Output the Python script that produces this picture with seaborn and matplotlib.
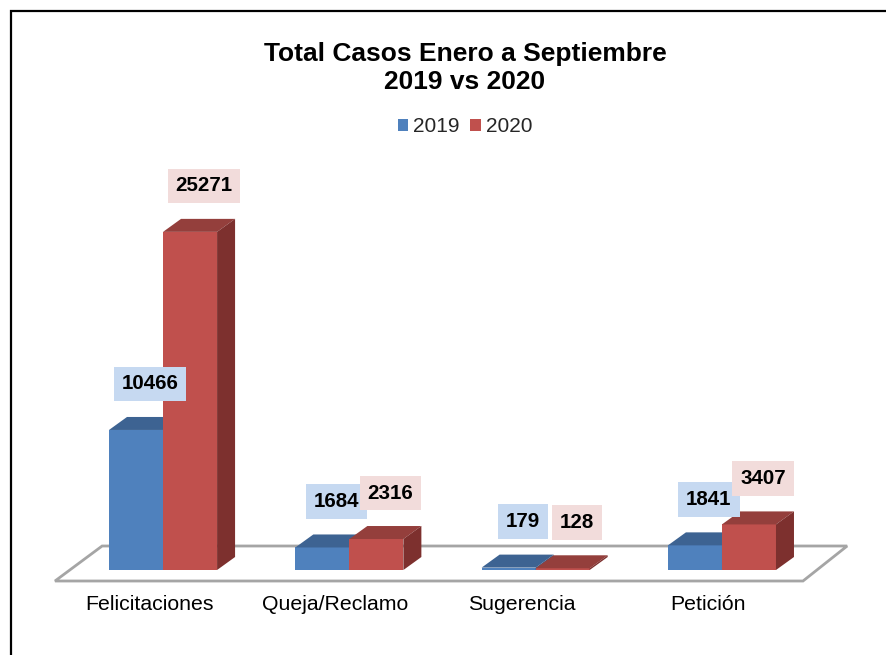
import matplotlib
matplotlib.use("Agg")
import matplotlib.pyplot as plt
import matplotlib.patches as mpatches
import matplotlib.transforms as mtransforms
import numpy as np
import pandas as pd
import seaborn as sns

categories = ["Felicitaciones", "Queja/Reclamo", "Sugerencia", "Petición"]
years = ["2019", "2020"]
values_2019 = [10466, 1684, 179, 1841]
values_2020 = [25271, 2316, 128, 3407]

front_colors = {"2019": "#4f81bd", "2020": "#c0504d"}
top_colors = {"2019": "#3d6392", "2020": "#943f3c"}
side_colors = {"2019": "#375a85", "2020": "#7d302e"}
label_colors = {"2019": "#c6d9f1", "2020": "#f2dcdb"}

df = pd.DataFrame({
    "Categoria": categories * 2,
    "Año": ["2019"] * len(categories) + ["2020"] * len(categories),
    "Casos": values_2019 + values_2020,
})

sns.set_theme(style="white")
plt.rcParams["font.family"] = ["Liberation Sans", "DejaVu Sans"]

W, H = 886, 655
fig = plt.figure(figsize=(W / 100, H / 100), dpi=100)

# axes placed in pixel terms: baseline at y=570px, 1 unit = 0.01338 px
ymax = 30000
px_per_val = 0.01338
base_px = 570
x_left_px, x_right_px = 14, 871
ax = fig.add_axes([x_left_px / W, (H - base_px) / H,
                   (x_right_px - x_left_px) / W, ymax * px_per_val / H])

sns.barplot(data=df, x="Categoria", y="Casos", hue="Año", hue_order=years,
            palette=front_colors, saturation=1, width=0.58, linewidth=0,
            legend=False, ax=ax)
ax.set_xlim(-0.8, 3.8)
ax.set_ylim(0, ymax)
ax.set_axis_off()

px_x = (x_right_px - x_left_px) / 4.6   # pixels per category unit
depth_dx = 18 / px_x
depth_dy = 13 / px_per_val

# floor (parallelogram)
fl_front_y = -11 / px_per_val
fl_back_y = 24 / px_per_val
floor = mpatches.Polygon(
    [(-0.58, fl_front_y), (3.435, fl_front_y), (3.672, fl_back_y), (-0.327, fl_back_y)],
    closed=True, facecolor="white", edgecolor="#a5a5a5", linewidth=2,
    zorder=1, clip_on=False)
ax.add_patch(floor)

# 3D faces and value labels, built from the seaborn bars
for i, (year, cont) in enumerate(zip(years, ax.containers)):
    z = 2 + i
    for bar in cont:
        bar.set_zorder(z)
        bar.set_clip_on(False)
        x0, w, h = bar.get_x(), bar.get_width(), bar.get_height()
        top = mpatches.Polygon(
            [(x0, h), (x0 + depth_dx, h + depth_dy), (x0 + w + depth_dx, h + depth_dy), (x0 + w, h)],
            closed=True, facecolor=top_colors[year], edgecolor="none", zorder=z, clip_on=False)
        side = mpatches.Polygon(
            [(x0 + w, 0), (x0 + w, h), (x0 + w + depth_dx, h + depth_dy), (x0 + w + depth_dx, depth_dy)],
            closed=True, facecolor=side_colors[year], edgecolor="none", zorder=z, clip_on=False)
        ax.add_patch(top)
        ax.add_patch(side)
        ax.annotate(f"{h:.0f}", xy=(x0 + w / 2 + depth_dx / 2, h + depth_dy),
                    xytext=(5, 33), textcoords="offset pixels",
                    ha="center", va="center", fontsize=14.8, fontweight="bold",
                    color="black", zorder=10, annotation_clip=False,
                    bbox=dict(boxstyle="square,pad=0.38", facecolor=label_colors[year],
                              edgecolor="none"))

# category labels
lbl_tr = mtransforms.offset_copy(ax.transData, fig=fig, x=-14, y=-35, units="dots")
for k, cat in enumerate(categories):
    ax.text(k, 0, cat, transform=lbl_tr, ha="center", va="center",
            fontsize=15.3, color="black")

# title
fig.text(465 / W, 1 - 68 / H, "Total Casos Enero a Septiembre\n2019 vs 2020",
         ha="center", va="center", fontsize=19, fontweight="bold", color="black")

# legend
handles = [mpatches.Patch(facecolor=front_colors[y], edgecolor="none", label=y) for y in years]
fig.legend(handles=handles, loc="center", bbox_to_anchor=(465 / W, 1 - 127 / H),
           ncol=2, frameon=False, fontsize=15, handlelength=0.5, handleheight=0.5,
           handletextpad=0.25, columnspacing=0.5)

# chart border (open to the right and bottom like the crop)
border = mpatches.Rectangle((11 / W, -0.1), 1.2, 1.1 - 11 / H, transform=fig.transFigure,
                            facecolor="none", edgecolor="black", linewidth=1.6,
                            clip_on=False, zorder=20)
fig.patches.append(border)

fig.savefig("out.png", dpi=100)
